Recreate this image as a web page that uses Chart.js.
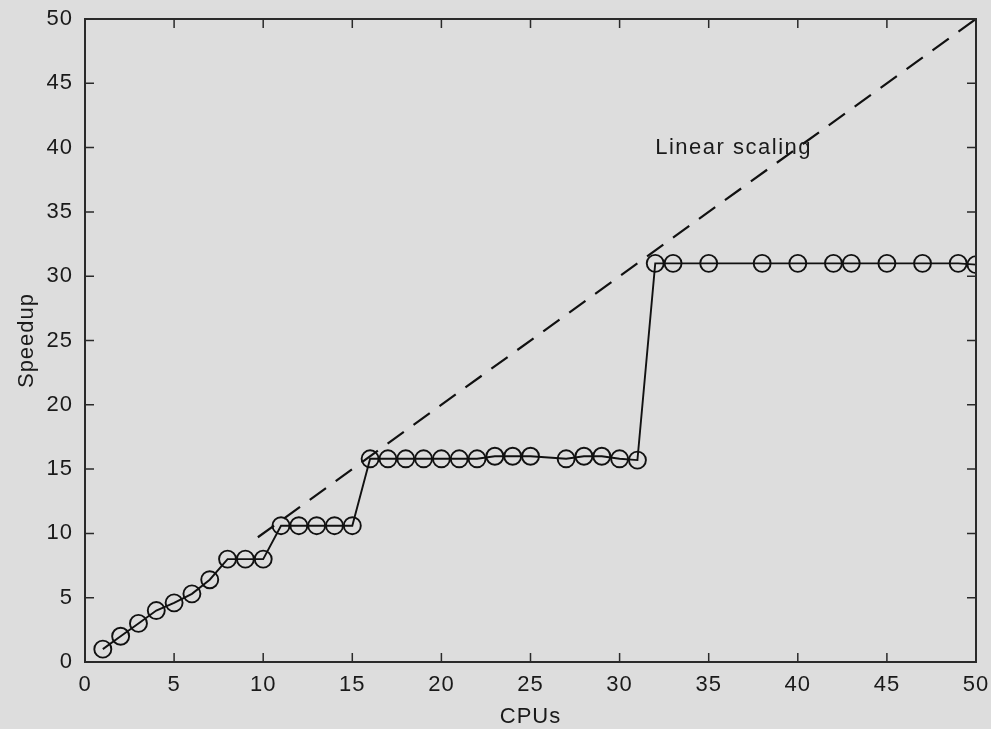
<!DOCTYPE html>
<html>
<head>
<meta charset="utf-8">
<script src="https://cdn.jsdelivr.net/npm/chart.js@4/dist/chart.umd.min.js"></script>
<style>
  html, body { margin: 0; padding: 0; background: #dddddd; }
  #wrap { width: 991px; height: 729px; }
</style>
</head>
<body>
<div id="wrap"><canvas id="chartSpeedup"></canvas></div>
<script>
const cpus = [1, 2, 3, 4, 5, 6, 7, 8, 9, 10, 11, 12, 13, 14, 15, 16, 17, 18, 19, 20, 21, 22, 23, 24, 25,
  27, 28, 29, 30, 31, 32, 33, 35, 38, 40, 42, 43, 45, 47, 49, 50];
const speedup = [1.0, 2.0, 3.0, 4.0, 4.6, 5.3, 6.4, 8.0, 8.0, 8.0, 10.6, 10.6, 10.6, 10.6, 10.6,
  15.8, 15.8, 15.8, 15.8, 15.8, 15.8, 15.8, 16.0, 16.0, 16.0,
  15.8, 16.0, 16.0, 15.8, 15.7, 31.0, 31.0, 31.0, 31.0, 31.0, 31.0, 31.0, 31.0, 31.0, 31.0, 30.9];
// ideal line
const linearX = [9.7, 50];
const linearY = [9.7, 50];
const xTicks = [0, 5, 10, 15, 20, 25, 30, 35, 40, 45, 50];
const yTicks = [0, 5, 10, 15, 20, 25, 30, 35, 40, 45, 50];
const noteText = 'Linear scaling';
const notePos = [32, 40];

const FONT = 'Liberation Sans, Arial, sans-serif';
const INK = '#1a1a1a';
const FS = 22;

// the original text is a bit wide, spread the letters a little
const wideText = {
  id: 'wideText',
  beforeDraw(chart) { chart.ctx.letterSpacing = '1px'; }
};

// box round the plot + inward ticks on all four sides, plus the text label
const matlabAxes = {
  id: 'matlabAxes',
  afterDatasetsDraw(chart) {
    const { ctx, chartArea: a, scales: { x, y } } = chart;
    const len = 9;
    ctx.save();
    ctx.strokeStyle = '#2a2a2a';
    ctx.lineWidth = 2;
    ctx.strokeRect(a.left, a.top, a.right - a.left, a.bottom - a.top);
    ctx.lineWidth = 1.5;
    ctx.beginPath();
    xTicks.forEach(v => {
      const px = x.getPixelForValue(v);
      ctx.moveTo(px, a.bottom); ctx.lineTo(px, a.bottom - len);
      ctx.moveTo(px, a.top); ctx.lineTo(px, a.top + len);
    });
    yTicks.forEach(v => {
      const py = y.getPixelForValue(v);
      ctx.moveTo(a.left, py); ctx.lineTo(a.left + len, py);
      ctx.moveTo(a.right, py); ctx.lineTo(a.right - len, py);
    });
    ctx.stroke();
    ctx.fillStyle = INK;
    ctx.font = FS + 'px ' + FONT;
    ctx.letterSpacing = '1.5px';
    ctx.textAlign = 'left';
    ctx.textBaseline = 'middle';
    ctx.fillText(noteText, x.getPixelForValue(notePos[0]), y.getPixelForValue(notePos[1]));
    ctx.restore();
  }
};

new Chart(document.getElementById('chartSpeedup'), {
  type: 'scatter',
  data: {
    datasets: [{
      label: 'Speedup',
      data: cpus.map((c, i) => ({ x: c, y: speedup[i] })),
      showLine: true,
      borderColor: '#111111',
      borderWidth: 1.9,
      pointRadius: 8.5,
      pointBorderWidth: 1.9,
      pointBorderColor: '#111111',
      pointBackgroundColor: 'rgba(0,0,0,0)',
      tension: 0
    }, {
      label: 'Linear scaling',
      data: linearX.map((c, i) => ({ x: c, y: linearY[i] })),
      showLine: true,
      borderColor: '#111111',
      borderWidth: 2.2,
      borderDash: [20, 12],
      pointRadius: 0
    }]
  },
  options: {
    responsive: true,
    maintainAspectRatio: false,
    animation: false,
    events: [],
    layout: { padding: { top: 19, right: 15, left: 0, bottom: 0 } },
    plugins: { legend: { display: false }, tooltip: { enabled: false } },
    scales: {
      x: {
        type: 'linear',
        min: 0, max: 50,
        afterBuildTicks: s => { s.ticks = xTicks.map(v => ({ value: v })); },
        afterFit: s => { s.height = 67; s.paddingLeft = 0; s.paddingRight = 0; },
        grid: { display: false, drawTicks: false },
        border: { display: false },
        ticks: { color: INK, font: { family: FONT, size: FS }, padding: 10, maxRotation: 0 },
        title: { display: true, text: 'CPUs', color: INK, font: { family: FONT, size: FS }, padding: { top: 0, bottom: -1 } }
      },
      y: {
        type: 'linear',
        min: 0, max: 50,
        afterBuildTicks: s => { s.ticks = yTicks.map(v => ({ value: v })); },
        afterFit: s => { s.width = 85; s.paddingTop = 0; s.paddingBottom = 0; },
        grid: { display: false, drawTicks: false },
        border: { display: false },
        ticks: { color: INK, font: { family: FONT, size: FS }, padding: 12 },
        title: { display: true, text: 'Speedup', color: INK, font: { family: FONT, size: FS }, padding: { top: 14, bottom: 0 } }
      }
    }
  },
  plugins: [wideText, matlabAxes]
});
</script>
</body>
</html>
